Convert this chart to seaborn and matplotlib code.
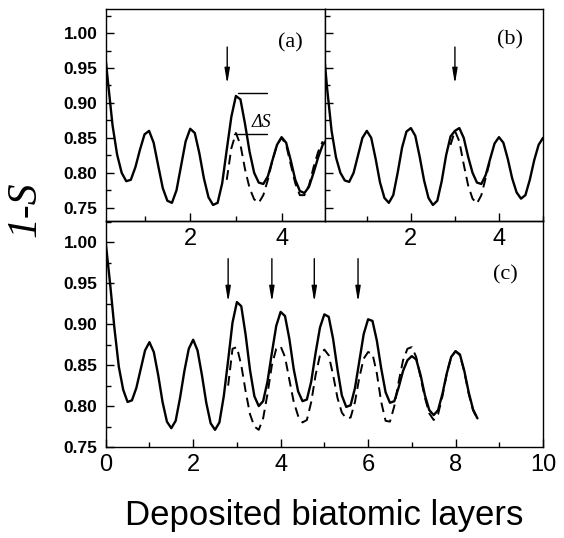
import numpy as np
import pandas as pd
import matplotlib
matplotlib.use("Agg")
import matplotlib.pyplot as plt
from matplotlib.ticker import MultipleLocator, FormatStrFormatter
import seaborn as sns

# ---- data read off the reference (y sampled every 0.1 layer) ----
# panel (a)
a_solid_x0 = 0.1
a_solid = [0.995, 0.930, 0.868, 0.826, 0.800, 0.788, 0.790, 0.808, 0.833, 0.855,
           0.860, 0.843, 0.810, 0.778, 0.760, 0.757, 0.775, 0.810, 0.845, 0.863,
           0.857, 0.828, 0.792, 0.765, 0.754, 0.757, 0.785, 0.833, 0.880, 0.910,
           0.905, 0.870, 0.830, 0.800, 0.786, 0.784, 0.795, 0.818, 0.840, 0.851,
           0.843, 0.818, 0.790, 0.774, 0.771, 0.780, 0.800, 0.822, 0.840, 0.848]
a_dash_x0 = 2.8
a_dash = [0.790, 0.835, 0.857, 0.840, 0.805, 0.778, 0.762, 0.757, 0.768, 0.790,
          0.818, 0.840, 0.850, 0.840, 0.812, 0.785, 0.768, 0.768, 0.782, 0.808,
          0.830, 0.845]

# panel (b)
b_solid_x0 = 0.0
b_solid = [0.990, 0.920, 0.860, 0.822, 0.800, 0.789, 0.787, 0.800, 0.825, 0.850,
           0.860, 0.850, 0.820, 0.786, 0.764, 0.757, 0.768, 0.800, 0.836, 0.859,
           0.864, 0.853, 0.823, 0.789, 0.764, 0.754, 0.760, 0.788, 0.825, 0.852,
           0.860, 0.864, 0.850, 0.823, 0.800, 0.786, 0.784, 0.797, 0.820, 0.842,
           0.851, 0.843, 0.820, 0.792, 0.772, 0.763, 0.768, 0.790, 0.818, 0.840,
           0.850]
b_dash_x0 = 2.9
b_dash = [0.840, 0.860, 0.845, 0.812, 0.782, 0.763, 0.756, 0.768, 0.793, 0.818]

# panel (c)
c_solid_x0 = 0.0
c_solid = [1.000, 0.950, 0.895, 0.848, 0.820, 0.805, 0.807, 0.822, 0.845, 0.868,
           0.878, 0.866, 0.838, 0.805, 0.781, 0.773, 0.782, 0.810, 0.843, 0.870,
           0.881, 0.868, 0.838, 0.804, 0.779, 0.771, 0.780, 0.812, 0.856, 0.902,
           0.927, 0.922, 0.887, 0.844, 0.812, 0.800, 0.806, 0.830, 0.865, 0.898,
           0.915, 0.910, 0.882, 0.845, 0.818, 0.806, 0.808, 0.830, 0.865, 0.896,
           0.912, 0.909, 0.882, 0.845, 0.813, 0.799, 0.801, 0.822, 0.855, 0.888,
           0.906, 0.904, 0.880, 0.846, 0.817, 0.804, 0.806, 0.823, 0.843, 0.856,
           0.861, 0.857, 0.838, 0.813, 0.795, 0.789, 0.795, 0.815, 0.840, 0.860,
           0.867, 0.863, 0.843, 0.817, 0.796, 0.785]
c_dash_x0 = 2.8
c_dash = [0.825, 0.870, 0.872, 0.850, 0.818, 0.790, 0.775, 0.771, 0.785, 0.815,
          0.850, 0.870, 0.873, 0.860, 0.832, 0.805, 0.788, 0.780, 0.783, 0.805,
          0.838, 0.862, 0.869, 0.862, 0.838, 0.810, 0.792, 0.785, 0.786, 0.805,
          0.835, 0.858, 0.866, 0.864, 0.840, 0.805, 0.782, 0.781, 0.800, 0.830,
          0.856, 0.870, 0.872, 0.860, 0.835, 0.810, 0.791, 0.783, 0.790, 0.812,
          0.840, 0.860, 0.867, 0.862, 0.842, 0.815, 0.795, 0.784]
step = 0.1

# arrow positions (x) and ΔS marker levels
a_arrows = [2.81]
b_arrows = [3.0]
c_arrows = [2.80, 3.80, 4.77, 5.77]
dS_top, dS_bottom = 0.914, 0.856


def frame(x0, ys):
    x = np.round(x0 + step * np.arange(len(ys)), 2)
    return pd.DataFrame({"x": x, "y": ys})


sns.set_style("ticks")
plt.rcParams["font.family"] = ["Liberation Sans", "DejaVu Sans"]
plt.rcParams["text.color"] = "black"
plt.rcParams["xtick.color"] = "black"
plt.rcParams["ytick.color"] = "black"
plt.rcParams["axes.labelcolor"] = "black"

fig = plt.figure(figsize=(5.64, 5.38), dpi=100)
ax_c = fig.add_axes([0.1874, 0.1691, 0.7754, 0.4201])
ax_a = fig.add_axes([0.1874, 0.5892, 0.3888, 0.3935])
ax_b = fig.add_axes([0.5762, 0.5892, 0.3866, 0.3935])
ax_c.set_facecolor("none")
ax_c.set_zorder(3)

panels = [
    (ax_a, a_solid_x0, a_solid, a_dash_x0, a_dash, a_arrows),
    (ax_b, b_solid_x0, b_solid, b_dash_x0, b_dash, b_arrows),
    (ax_c, c_solid_x0, c_solid, c_dash_x0, c_dash, c_arrows),
]
for ax, sx0, sy, dx0, dy, arrows in panels:
    sns.lineplot(data=frame(sx0, sy), x="x", y="y", ax=ax, color="black",
                 lw=1.7, estimator=None, sort=False, solid_joinstyle="round")
    sns.lineplot(data=frame(dx0, dy), x="x", y="y", ax=ax, color="black",
                 lw=1.4, linestyle=(0, (5, 3)), estimator=None, sort=False)
    for xa in arrows:
        ax.annotate("", xy=(xa, 0.927), xytext=(xa, 0.980),
                    arrowprops=dict(arrowstyle="-|>,head_width=0.15,head_length=0.9",
                                    color="black", lw=1.0, shrinkA=0, shrinkB=0))
    ax.set_xlabel("")
    ax.set_ylabel("")
    for s in ax.spines.values():
        s.set_linewidth(1.0)
        s.set_color("black")

# limits and ticks
ax_a.set_xlim(0.15, 4.95)
ax_b.set_xlim(0.05, 5.0)
ax_c.set_xlim(0, 10)
for ax in (ax_a, ax_b):
    ax.set_ylim(0.731, 1.034)
    ax.xaxis.set_major_locator(MultipleLocator(2))
    ax.xaxis.set_minor_locator(MultipleLocator(1))
ax_c.set_ylim(0.75, 1.026)
ax_c.xaxis.set_major_locator(MultipleLocator(2))
ax_c.xaxis.set_minor_locator(MultipleLocator(1))

for ax in (ax_a, ax_b, ax_c):
    ax.yaxis.set_major_locator(MultipleLocator(0.05))
    ax.yaxis.set_minor_locator(MultipleLocator(0.025))
    ax.yaxis.set_major_formatter(FormatStrFormatter("%.2f"))
    ax.tick_params(which="both", direction="in", top=False, right=False,
                   width=1.0, color="black")
    ax.tick_params(which="major", length=6)
    ax.tick_params(which="minor", length=3.5)
    ax.tick_params(axis="x", labelsize=17, pad=5, labelcolor="black")
    ax.tick_params(axis="y", labelsize=12.5, pad=6, labelcolor="black")
    for lab in ax.get_yticklabels():
        lab.set_fontweight("bold")

ax_b.tick_params(axis="y", labelleft=False)

# ΔS marker in panel (a)
serif = ["Liberation Serif", "DejaVu Serif"]
ax_a.plot([3.05, 3.67], [dS_top, dS_top], color="black", lw=1.0)
ax_a.plot([2.95, 3.69], [dS_bottom, dS_bottom], color="black", lw=1.0)
ax_a.text(3.55, 0.872, "ΔS", fontsize=13, fontstyle="italic",
          family=serif, ha="center", va="center")

# panel labels
ax_a.text(4.2, 0.986, "(a)", fontsize=16, family=serif, ha="center", va="center")
ax_b.text(4.25, 0.99, "(b)", fontsize=16, family=serif, ha="center", va="center")
ax_c.text(9.15, 0.96, "(c)", fontsize=16, family=serif, ha="center", va="center")

fig.text(0.5745, 1 - 515 / 538, "Deposited biatomic layers", fontsize=25,
         ha="center", va="center")
fig.text(0.045, 1 - 209 / 538, "1-S", fontsize=30, fontstyle="italic",
         family=serif, rotation=90, ha="center", va="center")

fig.savefig("out.png", dpi=100)
